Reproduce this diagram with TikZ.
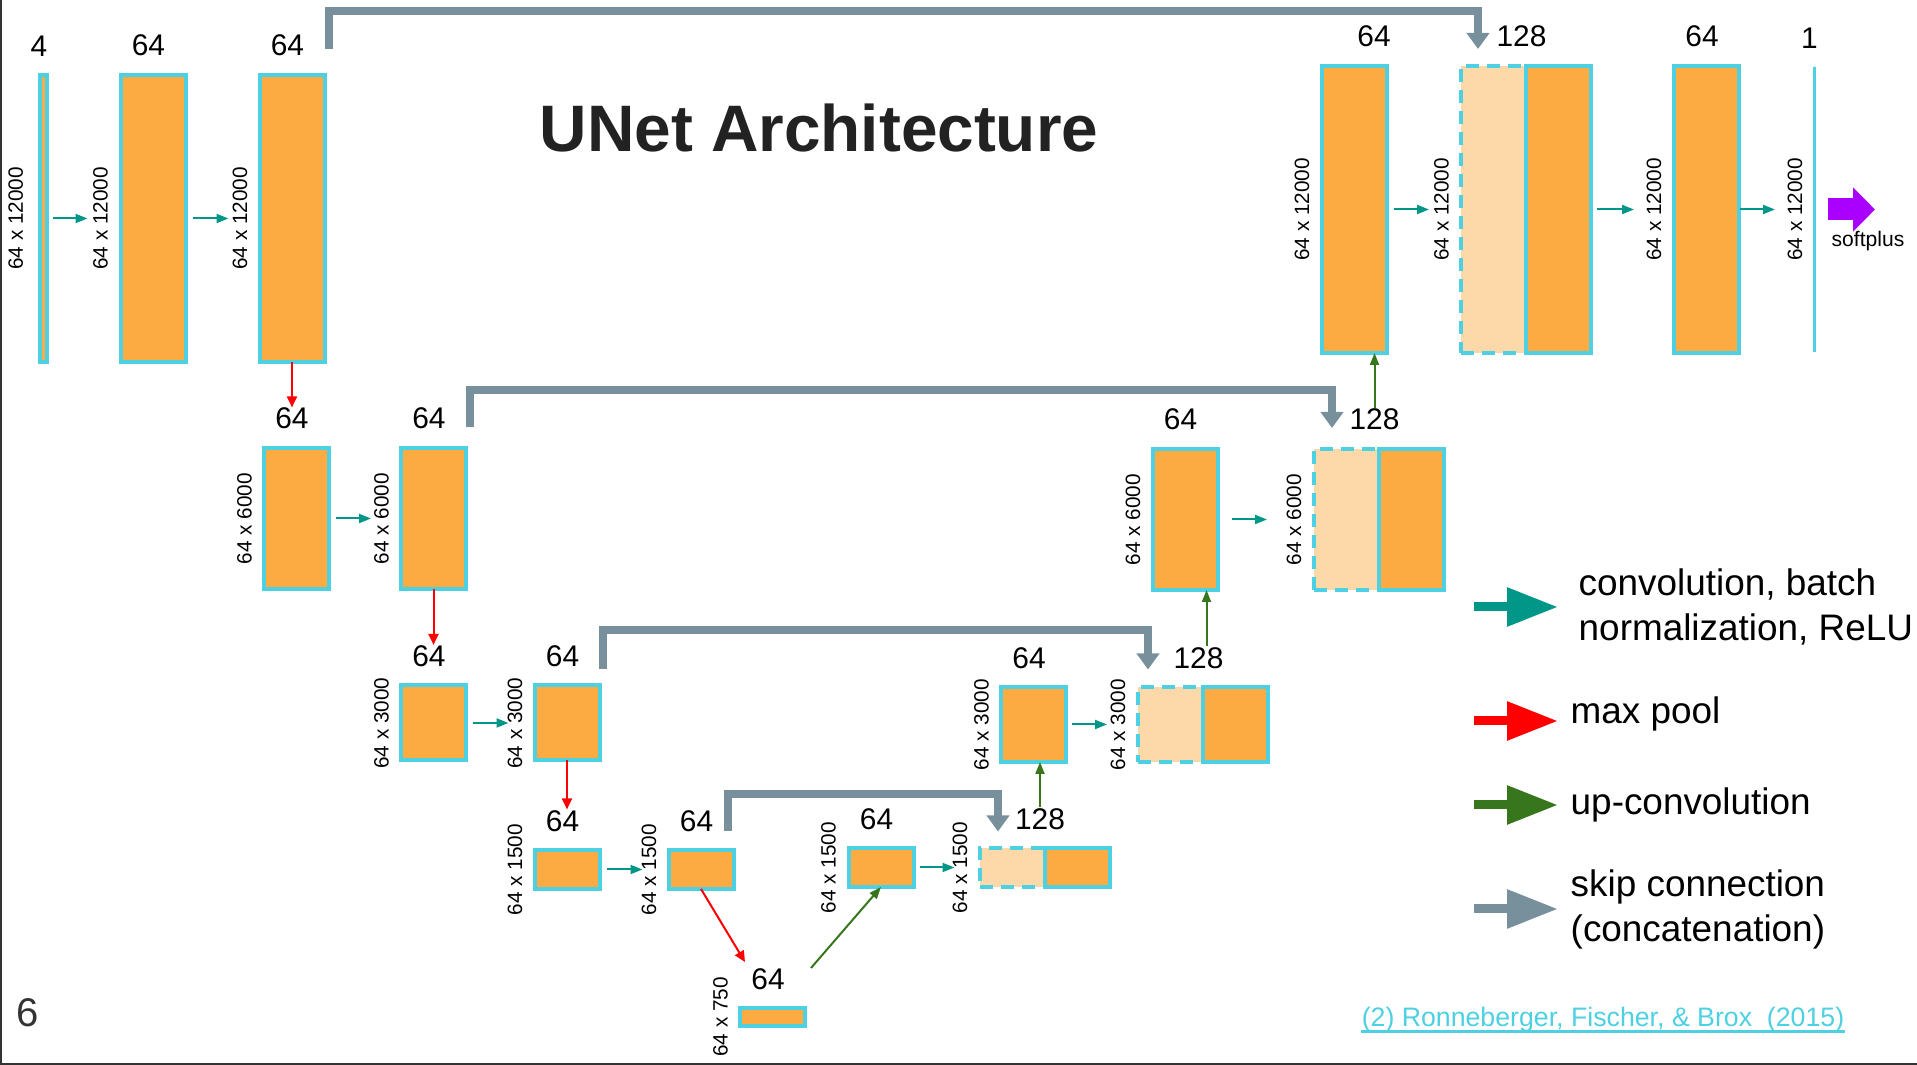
\documentclass[tikz,border=0pt]{standalone}
\usepackage{fontspec}
\setmainfont{Liberation Sans}
\usetikzlibrary{arrows.meta,positioning}

\definecolor{fmorange}{RGB}{252,170,66}
\definecolor{fmlight}{RGB}{253,216,168}
\definecolor{fmcyan}{RGB}{77,208,225}
\definecolor{convteal}{RGB}{0,150,136}
\definecolor{upgreen}{RGB}{56,118,29}
\definecolor{skipgray}{RGB}{120,144,156}
\definecolor{softpurple}{RGB}{170,0,255}
\definecolor{framegray}{RGB}{51,51,51}
\definecolor{titlegray}{RGB}{34,34,34}

\tikzset{
  fmap/.style={rectangle, draw=fmcyan, fill=fmorange, line width=0.4mm, minimum width=6.5mm, inner sep=0pt, outer sep=0pt},
  catmap/.style={fmap, fill=fmlight, dash pattern=on 1.3mm off 0.8mm},
  chantxt/.style={font=\fontsize{8.5}{10}\selectfont, inner sep=0pt, xshift=-0.45mm},
  sizetxt/.style={font=\fontsize{5.9}{7}\selectfont, rotate=90, inner sep=0pt},
  legtxt/.style={font=\fontsize{10.5}{12.8}\selectfont, inner sep=0pt, anchor=west},
  convarr/.style={draw=convteal, line width=0.2mm, -{Triangle[length=1.2mm,width=0.9mm]}},
  poolarr/.style={draw=red, line width=0.2mm, -{Triangle[length=1.1mm,width=1mm]}},
  uparr/.style={draw=upgreen, line width=0.2mm, -{Triangle[length=1.2mm,width=0.9mm]}},
  skiparr/.style={draw=skipgray, line width=0.8mm, -{Triangle[length=1.6mm,width=2.2mm]}},
  legarr/.style={line width=0.9mm, -{Triangle[length=5.1mm,width=3.7mm]}}
}

\begin{document}
\begin{tikzpicture}[x=0.1mm, y=-0.1mm]
    \useasboundingbox (0,0) rectangle (1917,1065);

    % slide frame and title
    \draw[framegray, line width=0.2mm] (1,0) -- (1,1064) -- (1917,1064);
    \node[font=\bfseries\fontsize{18.7}{22}\selectfont, text=titlegray, inner sep=0pt] (title) at (819,128.5) {UNet Architecture};

    % encoder, level 1
    \node[fmap, minimum width=0.75mm, minimum height=28.7mm] (b1) at (43.5,218.5) {};
    \node[fmap, minimum height=28.7mm] (b2) at (153,218.5) {};
    \node[fmap, minimum height=28.7mm] (b3) at (292,218.5) {};

    % encoder, level 2
    \node[fmap, minimum height=14.1mm] (l2a) at (296.5,518.5) {};
    \node[fmap, minimum height=14.1mm] (l2b) at (433.5,518.5) {};

    % encoder, level 3
    \node[fmap, minimum height=7.5mm] (l3a) at (433.5,723) {};
    \node[fmap, minimum height=7.5mm] (l3b) at (567,723) {};

    % encoder, level 4 and bottom
    \node[fmap, minimum height=3.9mm] (l4a) at (567,869.5) {};
    \node[fmap, minimum height=3.9mm] (l4b) at (701,869.5) {};
    \node[fmap, minimum height=1.8mm] (bt) at (772.5,1017) {};

    % decoder, level 4
    \node[fmap, minimum height=3.9mm] (r4a) at (881,867.5) {};
    \node[catmap, minimum height=3.9mm] (k4) at (1012,867.5) {};
    \node[fmap, minimum height=3.9mm, anchor=west] (k4s) at (k4.east) {};

    % decoder, level 3
    \node[fmap, minimum height=7.5mm] (r3a) at (1033.5,724.5) {};
    \node[catmap, minimum height=7.5mm] (k3) at (1170.5,724.5) {};
    \node[fmap, minimum height=7.5mm, anchor=west] (k3s) at (k3.east) {};

    % decoder, level 2
    \node[fmap, minimum height=14.1mm] (r2a) at (1185,519.5) {};
    \node[catmap, minimum height=14.1mm] (k2) at (1346.5,519.5) {};
    \node[fmap, minimum height=14.1mm, anchor=west] (k2s) at (k2.east) {};

    % decoder, level 1
    \node[fmap, minimum height=28.7mm] (a1) at (1354.5,209.5) {};
    \node[catmap, minimum height=28.7mm] (k1) at (1493.5,209.5) {};
    \node[fmap, minimum height=28.7mm, anchor=west] (k1s) at (k1.east) {};
    \node[fmap, minimum height=28.7mm] (c1) at (1706.5,209.5) {};
    \node[draw=fmcyan, line width=0.3mm, minimum width=0pt, minimum height=28.5mm, inner sep=0pt, outer sep=0pt] (out) at (1814,209.5) {};

    % channel counts
    \node[chantxt, above=1.8mm of b1] (n1) {4};
    \node[chantxt, above=1.8mm of b2] (n2) {64};
    \node[chantxt, above=1.8mm of b3] (n3) {64};
    \node[chantxt, above=1.8mm of l2a] (n2a) {64};
    \node[chantxt, above=1.8mm of l2b] (n2b) {64};
    \node[chantxt, above=1.8mm of l3a] (n3a) {64};
    \node[chantxt, above=1.8mm of l3b] (n3b) {64};
    \node[chantxt, above=1.8mm of l4a] (n4a) {64};
    \node[chantxt, above=1.8mm of l4b] (n4b) {64};
    \node[chantxt, above=1.8mm of bt] (nbt) {64};
    \node[chantxt, above=1.8mm of r4a] (nr4) {64};
    \node[chantxt, above=1.8mm of k4.north east] (q4) {128};
    \node[chantxt, above=1.8mm of r3a] (nr3) {64};
    \node[chantxt, above=1.8mm of k3.north east] (q3) {128};
    \node[chantxt, above=1.8mm of r2a] (nr2) {64};
    \node[chantxt, above=1.8mm of k2.north east] (q2) {128};
    \node[chantxt, above=1.8mm of a1, xshift=2.4mm] (na1) {64};
    \node[chantxt, above=1.8mm of k1.north east] (q1) {128};
    \node[chantxt, above=1.8mm of c1] (nc1) {64};
    \node[chantxt, above=1.8mm of out] (nout) {1};

    % map sizes
    \node[sizetxt] (s1) at ([xshift=-2.4mm]b1.west) {64 x 12000};
    \node[sizetxt] (s2) at ([xshift=-2mm]b2.west) {64 x 12000};
    \node[sizetxt] (s3) at ([xshift=-1.95mm]b3.west) {64 x 12000};
    \node[sizetxt] (s2a) at ([xshift=-1.95mm]l2a.west) {64 x 6000};
    \node[sizetxt] (s2b) at ([xshift=-1.95mm]l2b.west) {64 x 6000};
    \node[sizetxt] (s3a) at ([xshift=-1.95mm]l3a.west) {64 x 3000};
    \node[sizetxt] (s3b) at ([xshift=-1.95mm]l3b.west) {64 x 3000};
    \node[sizetxt] (s4a) at ([xshift=-1.95mm]l4a.west) {64 x 1500};
    \node[sizetxt] (s4b) at ([xshift=-1.95mm]l4b.west) {64 x 1500};
    \node[sizetxt] (sbt) at ([xshift=-1.95mm]bt.west) {64 x 750};
    \node[sizetxt] (sr4) at ([xshift=-2mm]r4a.west) {64 x 1500};
    \node[sizetxt] (sk4) at ([xshift=-1.95mm]k4.west) {64 x 1500};
    \node[sizetxt] (sr3) at ([xshift=-1.95mm]r3a.west) {64 x 3000};
    \node[sizetxt] (sk3) at ([xshift=-2mm]k3.west) {64 x 3000};
    \node[sizetxt] (sr2) at ([xshift=-1.95mm]r2a.west) {64 x 6000};
    \node[sizetxt] (sk2) at ([xshift=-2mm]k2.west) {64 x 6000};
    \node[sizetxt] (sa1) at ([xshift=-2mm]a1.west) {64 x 12000};
    \node[sizetxt] (sk1) at ([xshift=-1.95mm]k1.west) {64 x 12000};
    \node[sizetxt] (sc1) at ([xshift=-2mm]c1.west) {64 x 12000};
    \node[sizetxt] (sout) at ([xshift=-1.9mm]out.west) {64 x 12000};

    % convolution steps
    \draw[convarr] ([xshift=0.6mm]b1.east) -- ([xshift=-3.3mm]b2.west);
    \draw[convarr] ([xshift=0.7mm]b2.east) -- ([xshift=-3.1mm]b3.west);
    \draw[convarr] ([xshift=0.7mm]l2a.east) -- ([xshift=-3mm]l2b.west);
    \draw[convarr] ([xshift=0.7mm]l3a.east) -- ([xshift=-2.6mm]l3b.west);
    \draw[convarr] ([xshift=0.7mm]l4a.east) -- ([xshift=-2.6mm]l4b.west);
    \draw[convarr] ([xshift=0.6mm]r4a.east) -- ([xshift=-2.5mm]k4.west);
    \draw[convarr] ([xshift=0.6mm]r3a.east) -- ([xshift=-3.1mm]k3.west);
    \draw[convarr] ([xshift=1.4mm]r2a.east) -- ([xshift=-4.7mm]k2.west);
    \draw[convarr] ([xshift=0.7mm]a1.east) -- ([xshift=-3.2mm]k1.west);
    \draw[convarr] ([xshift=0.6mm]k1s.east) -- ([xshift=-4mm]c1.west);
    \draw[convarr] ([xshift=0.1mm]c1.east) -- ([xshift=-3.9mm]out.west);

    % max pooling
    \coordinate (poolend) at (745,962);
    \draw[poolarr] (b3.south) -- (b3.south |- n2a.north);
    \draw[poolarr] (l2b.south) -- (l2b.south |- n3a.north);
    \draw[poolarr] (l3b.south) -- (l3b.south |- n4a.north);
    \draw[poolarr] (l4b.south) -- (poolend);

    % up-convolution
    \coordinate (upstart) at (811,968);
    \draw[uparr] (upstart) -- (r4a.south);
    \draw[uparr] (q4.north) -- (q4.north |- r3a.south);
    \draw[uparr] ([xshift=0.8mm]q3.north) -- ([xshift=0.8mm]q3.north |- r2a.south);
    \draw[uparr] (q2.north) -- (q2.north |- a1.south);

    % skip connections
    \draw[skiparr] ([xshift=0.45mm,yshift=2.6mm]b3.north east) -- ++(0,-38) -| ([xshift=1.7mm,yshift=1.7mm]k1.north west);
    \draw[skiparr] ([xshift=0.35mm,yshift=2.05mm]l2b.north east) -- ++(0,-37) -| ([xshift=1.8mm,yshift=2.1mm]k2.north west);
    \draw[skiparr] ([xshift=0.35mm,yshift=1.6mm]l3b.north east) -- ++(0,-39) -| ([xshift=1mm,yshift=1.75mm]k3.north west);
    \draw[skiparr] ([xshift=-0.55mm,yshift=1.85mm]l4b.north east) -- ++(0,-37) -| ([xshift=1.85mm,yshift=1.65mm]k4.north west);

    % output activation
    \draw[softpurple, line width=2.2mm, -{Triangle[length=2.2mm,width=4.3mm]}] ([xshift=1.4mm]out.east) -- ([xshift=6.1mm]out.east);
    \node[font=\fontsize{6}{7}\selectfont, inner sep=0pt, anchor=base] (soft) at (1868,247) {softplus};

    % legend
    \node[legtxt, align=left] (lg1) at (1578,607) {convolution, batch\\normalization, ReLU};
    \node[legtxt] (lg2) at (1570,714) {max pool};
    \node[legtxt] (lg3) at (1570,805) {up-convolution};
    \node[legtxt, align=left] (lg4) at (1570,909) {skip connection\\(concatenation)};
    \draw[legarr, convteal] ([xshift=-10.4mm]lg1.west) -- ([xshift=-2mm]lg1.west);
    \draw[legarr, red] ([xshift=-9.6mm,yshift=-0.7mm]lg2.west) -- ([xshift=-1.2mm,yshift=-0.7mm]lg2.west);
    \draw[legarr, upgreen] ([xshift=-9.6mm]lg3.west) -- ([xshift=-1.2mm]lg3.west);
    \draw[legarr, skipgray] ([xshift=-9.6mm]lg4.west) -- ([xshift=-1.2mm]lg4.west);

    % page number and reference
    \node[font=\fontsize{11.4}{13}\selectfont, text=framegray, inner sep=0pt] (page) at (27.5,1012.5) {6};
    \node[font=\fontsize{7.6}{9}\selectfont, text=fmcyan, inner sep=0pt, anchor=base] (cite) at (1603,1027) {(2) Ronneberger, Fischer, \& Brox~~(2015)};
    \draw[fmcyan, line width=0.25mm] ([yshift=-0.45mm]cite.base west) -- ([yshift=-0.45mm]cite.base east);
\end{tikzpicture}
\end{document}
